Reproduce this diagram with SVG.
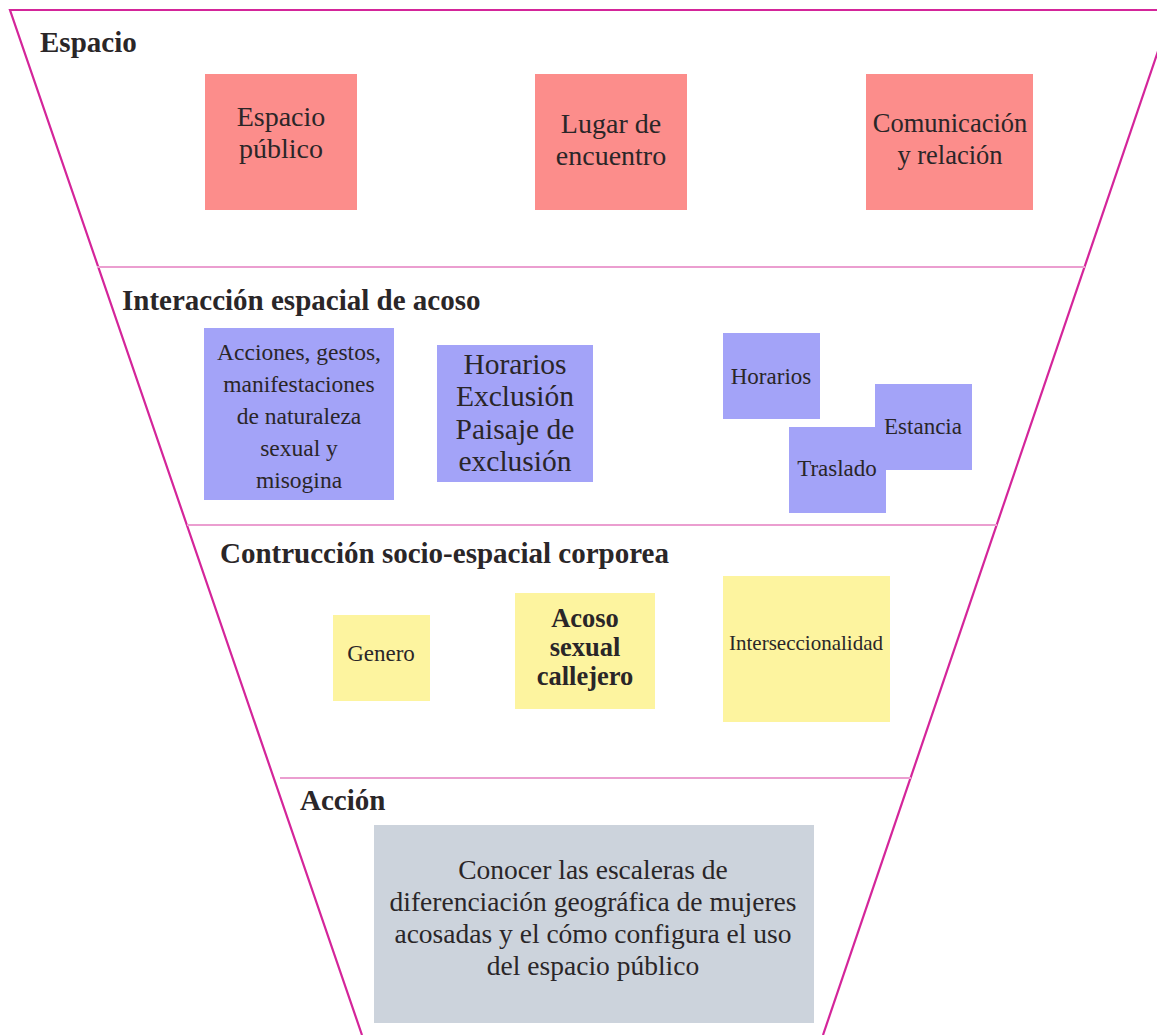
<svg xmlns="http://www.w3.org/2000/svg" width="1157" height="1035" viewBox="0 0 1157 1035">
<style>
.t{font-family:"Liberation Serif","Times New Roman","DejaVu Serif",serif;fill:#2a2628;text-anchor:middle}
.h{font-family:"Liberation Serif","Times New Roman","DejaVu Serif",serif;fill:#2a2628;font-weight:bold;font-size:29px}
.pk{fill:#fc8d8b}
.bl{fill:#a3a3f8}
.yl{fill:#fdf49f}
.gy{fill:#ccd3dc}
.sep{stroke:#eb9ed0;stroke-width:2;fill:none}
.out{stroke:#d4259a;stroke-width:2.2;fill:none}
</style>
<rect width="1157" height="1035" fill="#ffffff"/>
<g id="funnel">
<polyline class="out" points="1172,10 10,10 362,1035"/>
<line class="out" x1="1172" y1="10" x2="823" y2="1035"/>
<line class="sep" x1="97" y1="267" x2="1085" y2="267"/>
<line class="sep" x1="187" y1="525" x2="997" y2="525"/>
<line class="sep" x1="280" y1="778" x2="911" y2="778"/>
</g>
<g id="titles">
<text class="h" x="40" y="52" font-size="28.5">Espacio</text>
<text class="h" x="122" y="310">Interacción espacial de acoso</text>
<text class="h" x="220" y="563">Contrucción socio-espacial corporea</text>
<text class="h" x="300" y="810">Acción</text>
</g>
<g id="espacio-publico">
<rect class="pk" x="205" y="74" width="152" height="136"/>
<text class="t" font-size="28" x="281" y="126">Espacio</text>
<text class="t" font-size="28" x="281" y="158">público</text>
</g>
<g id="lugar-encuentro">
<rect class="pk" x="535" y="74" width="152" height="136"/>
<text class="t" font-size="28" x="611" y="133">Lugar de</text>
<text class="t" font-size="28" x="611" y="165">encuentro</text>
</g>
<g id="comunicacion">
<rect class="pk" x="866" y="74" width="167" height="136"/>
<text class="t" font-size="26.5" x="950" y="132">Comunicación</text>
<text class="t" font-size="26.5" x="950" y="164">y relación</text>
</g>
<g id="acciones">
<rect class="bl" x="204" y="328" width="190" height="172"/>
<text class="t" font-size="23.5" x="299" y="360">Acciones, gestos,</text>
<text class="t" font-size="23.5" x="299" y="392">manifestaciones</text>
<text class="t" font-size="23.5" x="299" y="424">de naturaleza</text>
<text class="t" font-size="23.5" x="299" y="456">sexual y</text>
<text class="t" font-size="23.5" x="299" y="488">misogina</text>
</g>
<g id="horarios-exclusion">
<rect class="bl" x="437" y="345" width="156" height="137"/>
<text class="t" font-size="29.5" x="515" y="374">Horarios</text>
<text class="t" font-size="29.5" x="515" y="406">Exclusión</text>
<text class="t" font-size="29.5" x="515" y="439">Paisaje de</text>
<text class="t" font-size="29.5" x="515" y="471">exclusión</text>
</g>
<g id="horarios">
<rect class="bl" x="723" y="333" width="97" height="86"/>
<text class="t" font-size="23" x="771" y="384">Horarios</text>
</g>
<g id="estancia">
<rect class="bl" x="875" y="384" width="97" height="86"/>
<text class="t" font-size="23" x="923" y="434">Estancia</text>
</g>
<g id="traslado">
<rect class="bl" x="789" y="427" width="97" height="86"/>
<text class="t" font-size="23" x="837" y="476">Traslado</text>
</g>
<g id="genero">
<rect class="yl" x="333" y="615" width="97" height="86"/>
<text class="t" font-size="23" x="381" y="661">Genero</text>
</g>
<g id="acoso">
<rect class="yl" x="515" y="593" width="140" height="116"/>
<text class="t" font-size="26.5" font-weight="bold" x="585" y="627">Acoso</text>
<text class="t" font-size="26.5" font-weight="bold" x="585" y="656">sexual</text>
<text class="t" font-size="26.5" font-weight="bold" x="585" y="685">callejero</text>
</g>
<g id="interseccionalidad">
<rect class="yl" x="723" y="576" width="167" height="146"/>
<text class="t" font-size="21" x="806" y="650">Interseccionalidad</text>
</g>
<g id="accion">
<rect class="gy" x="374" y="825" width="440" height="198"/>
<text class="t" font-size="27.5" x="593" y="879">Conocer las escaleras de</text>
<text class="t" font-size="27.5" x="593" y="911">diferenciación geográfica de mujeres</text>
<text class="t" font-size="27.5" x="593" y="943">acosadas y el cómo configura el uso</text>
<text class="t" font-size="27.5" x="593" y="975">del espacio público</text>
</g>
<g id="connectors"></g>
</svg>
